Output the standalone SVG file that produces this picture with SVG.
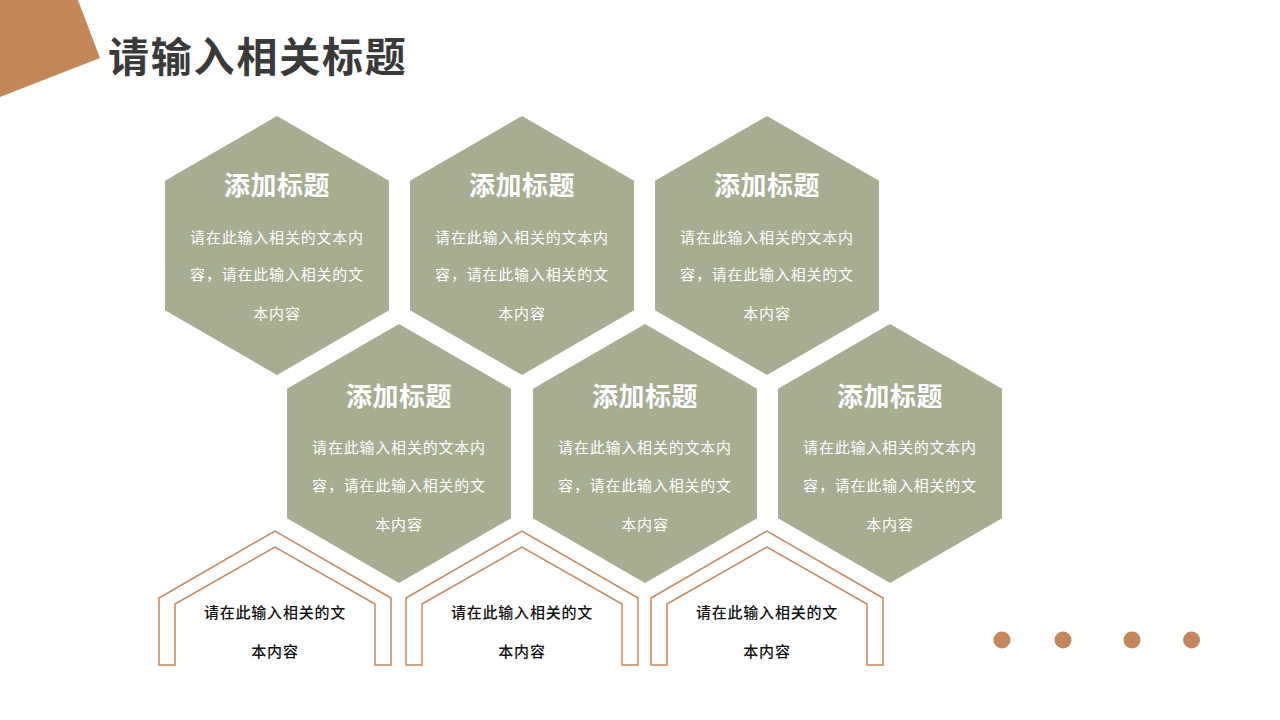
<svg xmlns="http://www.w3.org/2000/svg" width="1280" height="720" viewBox="0 0 1280 720">
<defs>
<style>
.hex{fill:#A6AD91;}
.house{fill:none;stroke:#C8895A;stroke-width:1.5;}
.dot{fill:#C4875A;}
.t{font-family:"Noto Sans CJK SC","Noto Sans",sans-serif;text-anchor:middle;}
.ht{font-size:26px;font-weight:bold;fill:#FFFFFF;letter-spacing:0.5px;}
.hb{font-size:15px;fill:#FFFFFF;letter-spacing:0.8px;}
.bb{font-size:15px;fill:#111111;letter-spacing:0.8px;font-weight:500;}
.title{font-family:"Noto Sans CJK SC","Noto Sans",sans-serif;font-size:41px;font-weight:bold;fill:#3A3A3A;}
</style>
<polygon id="hexshape" points="0,-129.5 112,-64.7 112,64.7 0,129.5 -112,64.7 -112,-64.7"/>
<polygon id="houseshape" points="-116,134 -116,67 0,0 116,67 116,134 100,134 100,73 0,16 -100,73 -100,134"/>
</defs>
<rect width="1280" height="720" fill="#FFFFFF"/>
<polygon points="0,0 78,0 100,58 0,97" fill="#C4875A"/>
<text class="title" x="108" y="72" letter-spacing="1.8">请输入相关标题</text>

<g id="hex1" transform="translate(277,245.5)">
<use href="#hexshape" class="hex"/>
<text class="t ht" y="-51">添加标题</text>
<text class="t hb" y="-3">请在此输入相关的文本内</text>
<text class="t hb" y="34">容，请在此输入相关的文</text>
<text class="t hb" y="73">本内容</text>
</g>
<g id="hex2" transform="translate(522,245.5)">
<use href="#hexshape" class="hex"/>
<text class="t ht" y="-51">添加标题</text>
<text class="t hb" y="-3">请在此输入相关的文本内</text>
<text class="t hb" y="34">容，请在此输入相关的文</text>
<text class="t hb" y="73">本内容</text>
</g>
<g id="hex3" transform="translate(767,245.5)">
<use href="#hexshape" class="hex"/>
<text class="t ht" y="-51">添加标题</text>
<text class="t hb" y="-3">请在此输入相关的文本内</text>
<text class="t hb" y="34">容，请在此输入相关的文</text>
<text class="t hb" y="73">本内容</text>
</g>
<g id="hex4" transform="translate(399,453.5)">
<use href="#hexshape" class="hex"/>
<text class="t ht" y="-48">添加标题</text>
<text class="t hb" y="-1">请在此输入相关的文本内</text>
<text class="t hb" y="37">容，请在此输入相关的文</text>
<text class="t hb" y="76">本内容</text>
</g>
<g id="hex5" transform="translate(645,453.5)">
<use href="#hexshape" class="hex"/>
<text class="t ht" y="-48">添加标题</text>
<text class="t hb" y="-1">请在此输入相关的文本内</text>
<text class="t hb" y="37">容，请在此输入相关的文</text>
<text class="t hb" y="76">本内容</text>
</g>
<g id="hex6" transform="translate(890,453.5)">
<use href="#hexshape" class="hex"/>
<text class="t ht" y="-48">添加标题</text>
<text class="t hb" y="-1">请在此输入相关的文本内</text>
<text class="t hb" y="37">容，请在此输入相关的文</text>
<text class="t hb" y="76">本内容</text>
</g>

<g id="house1" transform="translate(275,531)">
<use href="#houseshape" class="house"/>
<text class="t bb" y="87">请在此输入相关的文</text>
<text class="t bb" y="126">本内容</text>
</g>
<g id="house2" transform="translate(522,531)">
<use href="#houseshape" class="house"/>
<text class="t bb" y="87">请在此输入相关的文</text>
<text class="t bb" y="126">本内容</text>
</g>
<g id="house3" transform="translate(767,531)">
<use href="#houseshape" class="house"/>
<text class="t bb" y="87">请在此输入相关的文</text>
<text class="t bb" y="126">本内容</text>
</g>

<g id="dots">
<circle class="dot" cx="1002" cy="640" r="8.5"/>
<circle class="dot" cx="1063" cy="640" r="8.5"/>
<circle class="dot" cx="1132" cy="640" r="8.5"/>
<circle class="dot" cx="1191.5" cy="640" r="8.5"/>
</g>
<g id="connectors"/>
</svg>
